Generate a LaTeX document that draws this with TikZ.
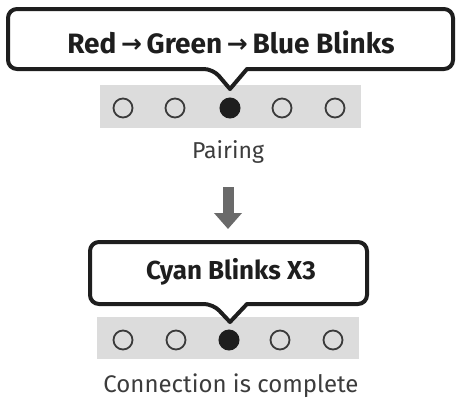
\documentclass[tikz,border=0pt]{standalone}
\usepackage{fontspec}
\setmainfont{Fira Sans}
\newfontfamily\arrowfont{DejaVu Sans}
\usetikzlibrary{arrows.meta}
\definecolor{boxline}{HTML}{1E1E1E}
\definecolor{strip}{HTML}{DCDCDC}
\definecolor{dotline}{HTML}{3A3A3A}
\definecolor{arrowgray}{HTML}{6A6A6A}
\definecolor{textgray}{HTML}{3C3C3C}
\tikzset{
  callout/.style={draw=boxline, line width=4pt, fill=white, line join=round},
  stripbox/.style={fill=strip, draw=none},
  ledoff/.style={circle, draw=dotline, line width=1.8pt, minimum size=19pt, inner sep=0pt},
  ledon/.style={circle, fill=boxline, draw=boxline, line width=1pt, minimum size=20pt, inner sep=0pt},
  headline/.style={font=\bfseries\fontsize{28}{32}\selectfont, text=boxline, inner sep=0pt, anchor=base},
  caption/.style={font=\fontsize{23}{26}\selectfont, text=textgray, inner sep=0pt, anchor=base},
  bigarrow/.style={draw=arrowgray, line width=11pt, -{Triangle[width=27pt,length=16pt]}}
}
\newcommand{\arr}{\,{\arrowfont\fontsize{25}{25}\selectfont\raisebox{1pt}{→}}\,}
\begin{document}
\begin{tikzpicture}[x=1pt,y=-1pt]
\useasboundingbox (0,0) rectangle (458,400);
% ---- top group
\fill[stripbox] (100,85) rectangle (361,128);
\draw[callout] (213,69) [sharp corners] -- (230,89) -- (247,69) [rounded corners=9pt] -- (453,69) -- (453,9) -- (8,9) -- (8,69) -- cycle;
\node[headline] (t1) at (231,53) {Red\arr Green\arr Blue Blinks};
\node[ledoff] (a1) at (123,108) {};
\node[ledoff] (a2) at (175,108) {};
\node[ledon]  (a3) at (230,108) {};
\node[ledoff] (a4) at (282,108) {};
\node[ledoff] (a5) at (335,108) {};
\node[caption] (p) at (228,158) {Pairing};
% ---- arrow
\coordinate (s) at (228,187);
\coordinate (e) at (228,229);
\draw[bigarrow] (s) -- (e);
% ---- bottom group
\fill[stripbox] (97,317) rectangle (359,359);
\draw[callout] (213,304) [sharp corners] -- (230,322) -- (247,304) [rounded corners=9pt] -- (367,304) -- (367,242) -- (90,242) -- (90,304) -- cycle;
\node[headline, font=\bfseries\fontsize{26}{30}\selectfont] (t2) at (231,279) {Cyan Blinks X3};
\node[ledoff] (b1) at (123,340) {};
\node[ledoff] (b2) at (176,340) {};
\node[ledon]  (b3) at (229,340) {};
\node[ledoff] (b4) at (280,340) {};
\node[ledoff] (b5) at (333,340) {};
\node[caption, font=\fontsize{24}{28}\selectfont] (c) at (231,392) {Connection is complete};
\end{tikzpicture}
\end{document}
